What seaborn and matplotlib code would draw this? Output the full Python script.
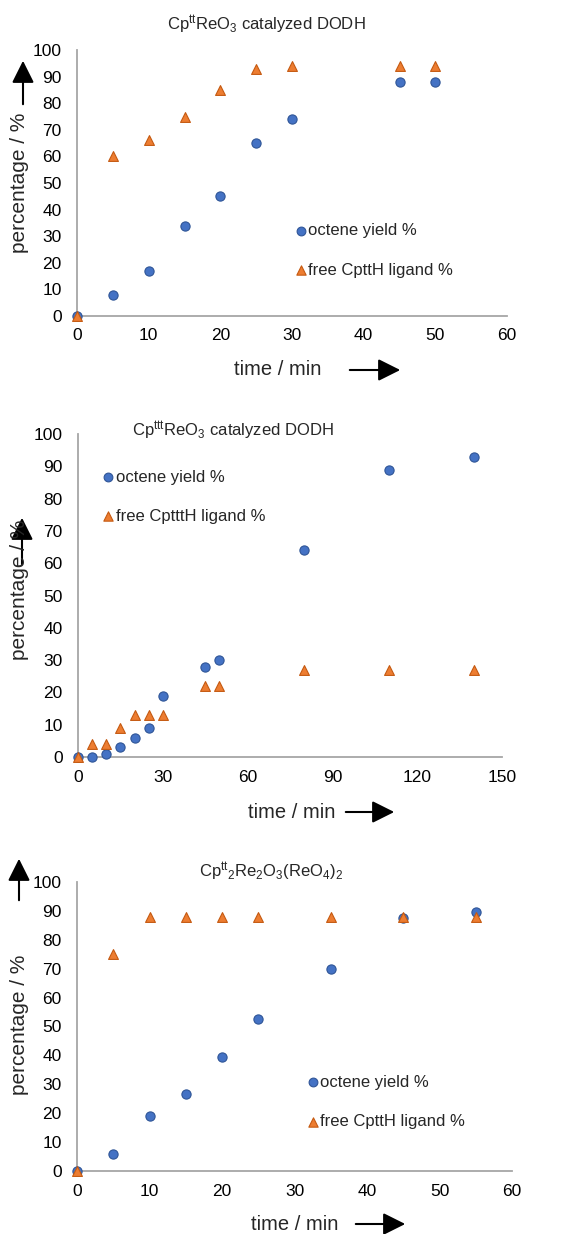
import numpy as np
import pandas as pd
import matplotlib
matplotlib.use("Agg")
import matplotlib.pyplot as plt
import seaborn as sns

# Panel 1: CpttReO3 catalyzed DODH
t1 = [0, 5, 10, 15, 20, 25, 30, 45, 50]
octene1 = [0, 8, 17, 34, 45, 65, 74, 88, 88]
ligand1 = [0, 60, 66, 75, 85, 93, 94, 94, 94]

# Panel 2: CptttReO3 catalyzed DODH
t2 = [0, 5, 10, 15, 20, 25, 30, 45, 50, 80, 110, 140]
octene2 = [0, 0, 1, 3, 6, 9, 19, 28, 30, 64, 89, 93]
ligand2 = [0, 4, 4, 9, 13, 13, 13, 22, 22, 27, 27, 27]

# Panel 3: Cptt2Re2O3(ReO4)2
t3 = [0, 5, 10, 15, 20, 25, 35, 45, 55]
octene3 = [0, 6, 19, 26.5, 39.5, 52.5, 70, 87.5, 89.5]
ligand3 = [0, 75, 88, 88, 88, 88, 88, 88, 88]

titles = [r"Cp$^{tt}$ReO$_{3}$ catalyzed DODH",
          r"Cp$^{ttt}$ReO$_{3}$ catalyzed DODH",
          r"Cp$^{tt}$$_{2}$Re$_{2}$O$_{3}$(ReO$_{4}$)$_{2}$"]
ligand_labels = ["free CpttH ligand %", "free CptttH ligand %", "free CpttH ligand %"]
xmax = [60, 150, 60]
xstep = [10, 30, 10]

sns.set_theme(style="white")
plt.rcParams["font.family"] = ["Liberation Sans", "DejaVu Sans"]
plt.rcParams["mathtext.default"] = "regular"

W, H = 586, 1234
fig = plt.figure(figsize=(W / 100, H / 100), dpi=100)

# axes boxes in pixels: left, right, top, bottom (from image top)
boxes = [(77, 507, 50, 316), (78, 502, 434, 757), (77, 512, 882, 1171)]
title_pos = [(266, 25), (233, 431), (271, 872)]
leg_pos = [(0.509, 0.246), (0.059, 0.806), (0.531, 0.239)]
ylab_pos = [(20, 183), (20, 590), (20, 1025)]
yarrow = [(23, 107, 58), (22, 567, 515), (19, 903, 856)]
xlab_pos = [(278, 370), (292, 812), (295, 1224)]
xarrow = [(347, 403, 370), (343, 397, 812), (353, 408, 1224)]

blue, blue_edge = "#4472C4", "#2F5597"
orange, orange_edge = "#ED7D31", "#C55A11"

data = [(t1, octene1, ligand1), (t2, octene2, ligand2), (t3, octene3, ligand3)]

for i, (t, oct_, lig) in enumerate(data):
    l, r, tp, bt = boxes[i]
    ax = fig.add_axes([l / W, (H - bt) / H, (r - l) / W, (bt - tp) / H])
    df = pd.DataFrame({"time": t, "octene": oct_, "ligand": lig})
    sns.scatterplot(data=df, x="time", y="octene", marker="o", s=44, color=blue,
                    edgecolor=blue_edge, linewidth=0.8, ax=ax, clip_on=False, zorder=3,
                    label="octene yield %")
    sns.scatterplot(data=df, x="time", y="ligand", marker="^", s=50, color=orange,
                    edgecolor=orange_edge, linewidth=0.8, ax=ax, clip_on=False, zorder=4,
                    label=ligand_labels[i])
    ax.set_xlim(0, xmax[i])
    ax.set_ylim(0, 100)
    ax.set_xticks(np.arange(0, xmax[i] + 1, xstep[i]))
    ax.set_yticks(np.arange(0, 101, 10))
    ax.set_xlabel("")
    ax.set_ylabel("")
    for side in ["top", "right"]:
        ax.spines[side].set_visible(False)
    for side in ["left", "bottom"]:
        ax.spines[side].set_color("#A6A6A6")
        ax.spines[side].set_linewidth(1.3)
    ax.tick_params(axis="both", length=0, labelsize=12.5, colors="black")
    ax.tick_params(axis="x", pad=9)
    ax.tick_params(axis="y", pad=11)

    ax.legend(loc="center left", bbox_to_anchor=leg_pos[i],
              frameon=False, fontsize=12, handlelength=0.6, handletextpad=0.15,
              labelspacing=1.45, borderpad=0, borderaxespad=0, markerscale=0.95)

    tx, ty = title_pos[i]
    fig.text(tx / W, (H - ty) / H, titles[i], ha="center", va="center", fontsize=12)

    yx, yy = ylab_pos[i]
    fig.text(yx / W, (H - yy) / H, "percentage / %", rotation=90, ha="center",
             va="center", fontsize=15)
    ax_, y0, y1 = yarrow[i]
    fig.add_artist(matplotlib.patches.FancyArrowPatch(
        (ax_, H - y0), (ax_, H - y1), transform=None,
        arrowstyle="-|>,head_length=0.9,head_width=0.45", mutation_scale=15,
        color="black", linewidth=1.5))

    xx, xy = xlab_pos[i]
    fig.text(xx / W, (H - xy) / H, "time / min", ha="center", va="center", fontsize=14.5)
    x0, x1, ay = xarrow[i]
    fig.add_artist(matplotlib.patches.FancyArrowPatch(
        (x0, H - ay), (x1, H - ay), transform=None,
        arrowstyle="-|>,head_length=0.9,head_width=0.45", mutation_scale=15,
        color="black", linewidth=1.5))

fig.savefig("out.png", dpi=100)
